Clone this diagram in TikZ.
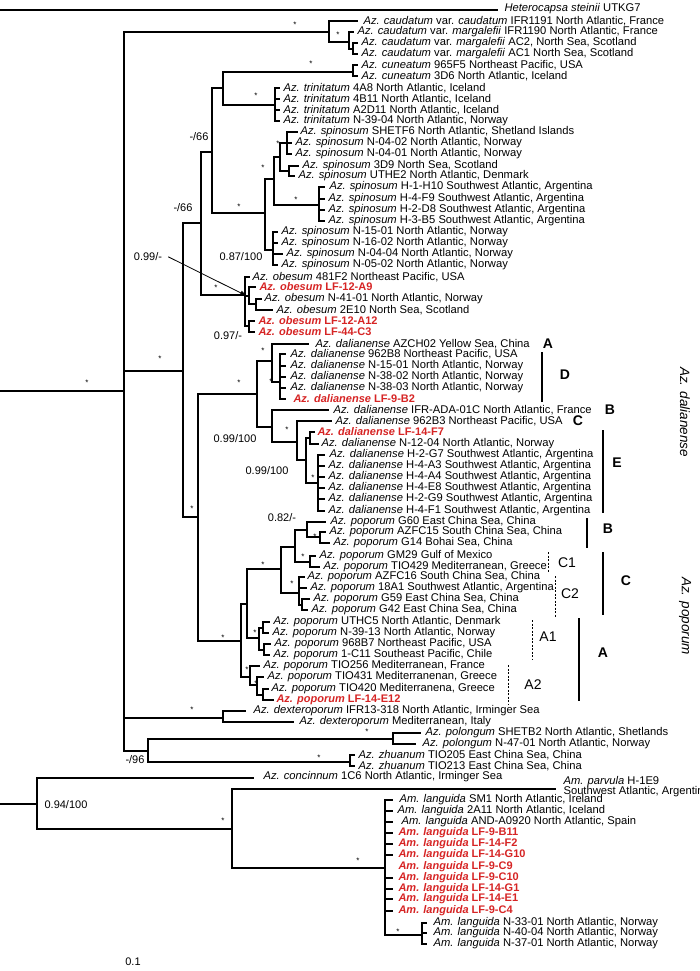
\documentclass[tikz,border=0pt]{standalone}
\usepackage{fontspec}
\setmainfont{Liberation Sans}
\usetikzlibrary{arrows.meta}
\definecolor{redlab}{RGB}{214,36,36}
\newcommand\clade[4]{\draw (#1,#2) -- (#1,#3); \foreach \yy/\xx in {#4} {\draw (#1,\yy) -- (\xx,\yy);}}
\newcommand\tl[3]{\node[lab] (t#2) at (#1,#2) {#3};}
\newcommand\rl[3]{\node[rlab] (t#2) at (#1,#2) {#3};}
\newcommand\st[2]{\node[starn] at (#1,#2) {*};}
\begin{document}
\begin{tikzpicture}[x=1pt,y=-1pt,line width=1.1pt,line cap=rect,
  lab/.style={anchor=west,inner sep=0pt,font=\fontsize{11.2}{11.2}\selectfont},
  rlab/.style={anchor=west,inner sep=0pt,text=redlab,font=\fontsize{11}{11}\selectfont\bfseries},
  supv/.style={inner sep=0pt,font=\fontsize{11}{11}\selectfont},
  starn/.style={inner sep=0pt,font=\fontsize{8}{8}\selectfont,yshift=-1.8pt},
  grp/.style={inner sep=0pt,font=\fontsize{14}{14}\selectfont\bfseries},
  subg/.style={inner sep=0pt,font=\fontsize{14}{14}\selectfont},
  gbar/.style={line width=2.6pt,line cap=butt},
  dbar/.style={line width=0.8pt,line cap=butt,dash pattern=on 2pt off 1.5pt}]
\useasboundingbox (0,0) rectangle (699,971);
% root branches
\draw (0,10) -- (497,10);
\draw (0,391) -- (124,391); \st{87}{381}
\draw (0,804) -- (37,804);
% N1
\clade{124}{32}{751}{32/329,371/183,718/223,751/148}
\st{295}{23}\st{160}{357}\st{192}{708}
\node[supv] at (135,760) {-/96};
% caudatum
\clade{329}{21}{42}{21/357,42/349}\st{338}{33}
\clade{349}{32}{49}{32/353,49/353}
\clade{353}{43}{54}{43/357,54/357}
% x183
\clade{183}{223}{517}{223/201,517/198}\st{192}{507}
\node[supv] at (183,208) {-/66};
\clade{201}{152}{295}{152/212,295/245}\st{216}{286}
\node[supv] at (199,137) {-/66};
\clade{212}{88}{213}{88/223,213/265}\st{239}{205}
\clade{223}{72}{105}{72/353,105/275}\st{311}{62}\st{256}{94}
\clade{353}{65}{76}{65/357,76/357}
\clade{275}{88}{121}{88/279,99/279,110/279,121/279}
% spinosum
\clade{265}{179}{250}{179/274,250/273}
\clade{274}{157}{205}{157/280,205/319}\st{296}{198}\st{263}{166}
\clade{280}{143}{171}{143/287,171/289}\st{278}{142}
\clade{287}{132}{154}{132/297,143/291,154/291}
\clade{289}{166}{176}{166/298,176/294}
\clade{319}{187}{221}{187/324,199/324,210/324,221/324}
\clade{273}{232}{265}{232/277,243/277,254/282,265/277}
\node[supv] at (241,257) {0.87/100};
% obesum
\clade{245}{277}{326}{277/249,296/249,326/249}
\clade{249}{287}{304}{287/255,304/256}
\clade{256}{299}{310}{299/261,310/272}
\clade{249}{321}{332}{321/254,332/254}
\node[supv] at (228,336) {0.97/-};
\node[supv] (s099) at (148,257) {0.99/-};
\coordinate (obn) at (247,296);
\draw[line width=0.8pt,-{Latex[length=7pt,width=5pt]}] (s099.east) ++(6,0) -- (obn);
% dalianense + poporum
\clade{198}{394}{641}{394/257,641/241}\st{239}{381}\st{223}{636}
\clade{257}{361}{427}{361/272,427/272}
\node[supv] at (235,439) {0.99/100};
\clade{272}{344}{382}{344/308,382/280}\st{263}{349}\st{271}{380}
\clade{280}{354}{399}{354/285,366/285,377/285,388/285,399/285}
\clade{272}{410}{442}{410/328,442/297}
\clade{297}{421}{460}{421/331,460/306}\st{287}{428}
\clade{306}{438}{483}{438/310,483/318}\st{313}{476}
\node[supv] at (267,471) {0.99/100};
\clade{310}{432}{444}{432/314,444/318}
\clade{318}{455}{511}{455/324,466/324,477/324,488/324,499/324,511/324}
% poporum
\clade{241}{604}{677}{604/247,677/250}
\clade{247}{569}{638}{569/281,638/259}\st{263}{563}
\clade{281}{547}{593}{547/295,593/299}
\clade{295}{530}{562}{530/307,562/310}
\node[supv] at (282,518) {0.82/-};
\clade{307}{522}{537}{522/325,537/320}\st{315}{535}
\clade{320}{532}{543}{532/325,543/329}
\clade{310}{556}{567}{556/315,567/319}\st{303}{555}
\clade{299}{577}{605}{577/304,588/306,605/302}\st{292}{582}
\clade{302}{599}{610}{599/309,610/307}
\clade{259}{628}{650}{628/263,650/264}\st{255}{631}
\clade{263}{622}{633}{622/269,633/268}
\clade{264}{644}{655}{644/270,655/269}
\clade{250}{666}{685}{666/259,685/257}\st{247}{668}
\clade{257}{677}{695}{677/263,695/263}\st{256}{682}
\clade{263}{689}{700}{689/268,700/273}
% dexteroporum, polongum, zhuanum
\clade{223}{711}{722}{711/245,722/293}
\clade{148}{739}{762}{739/393,762/350}\st{367}{730}\st{319}{756}
\clade{393}{733}{744}{733/420,744/415}
\clade{350}{755}{766}{755/354,766/354}
% Amphidoma
\clade{37}{778}{829}{778/253,829/232}
\node[supv] at (66,805) {0.94/100};
\clade{232}{789}{868}{789/555,868/385}\st{223}{819}\st{358}{859}
\clade{385}{800}{935}{800/392,811/392,822/392,833/392,844/392,855/392,878/392,889/392,899/392,911/392,935/422}\st{398}{930}
\clade{422}{923}{944}{923/426,933/426,944/426}
% scale
\node[supv] at (133,962) {0.1};
% labels
\tl{504}{9}{\textit{Heterocapsa steinii} UTKG7}
\tl{363}{21}{\textit{Az. caudatum} var. \textit{caudatum} IFR1191 North Atlantic, France}
\tl{357}{32}{\textit{Az. caudatum} var. \textit{margalefii} IFR1190 North Atlantic, France}
\tl{361}{43}{\textit{Az. caudatum} var. \textit{margalefii} AC2, North Sea, Scotland}
\tl{361}{54}{\textit{Az. caudatum} var. \textit{margalefii} AC1 North Sea, Scotland}
\tl{361}{65}{\textit{Az. cuneatum} 965F5 Northeast Pacific, USA}
\tl{361}{76}{\textit{Az. cuneatum} 3D6 North Atlantic, Iceland}
\tl{283}{88}{\textit{Az. trinitatum} 4A8 North Atlantic, Iceland}
\tl{283}{99}{\textit{Az. trinitatum} 4B11 North Atlantic, Iceland}
\tl{283}{110}{\textit{Az. trinitatum} A2D11 North Atlantic, Iceland}
\tl{283}{121}{\textit{Az. trinitatum} N-39-04 North Atlantic, Norway}
\tl{300}{132}{\textit{Az. spinosum} SHETF6 North Atlantic, Shetland Islands}
\tl{295}{143}{\textit{Az. spinosum} N-04-02 North Atlantic, Norway}
\tl{295}{154}{\textit{Az. spinosum} N-04-01 North Atlantic, Norway}
\tl{302}{166}{\textit{Az. spinosum} 3D9 North Sea, Scotland}
\tl{298}{176}{\textit{Az. spinosum} UTHE2 North Atlantic, Denmark}
\tl{329}{187}{\textit{Az. spinosum} H-1-H10 Southwest Atlantic, Argentina}
\tl{328}{199}{\textit{Az. spinosum} H-4-F9 Southwest Atlantic, Argentina}
\tl{328}{210}{\textit{Az. spinosum} H-2-D8 Southwest Atlantic, Argentina}
\tl{328}{221}{\textit{Az. spinosum} H-3-B5 Southwest Atlantic, Argentina}
\tl{281}{232}{\textit{Az. spinosum} N-15-01 North Atlantic, Norway}
\tl{281}{243}{\textit{Az. spinosum} N-16-02 North Atlantic, Norway}
\tl{286}{254}{\textit{Az. spinosum} N-04-04 North Atlantic, Norway}
\tl{281}{265}{\textit{Az. spinosum} N-05-02 North Atlantic, Norway}
\tl{252}{277}{\textit{Az. obesum} 481F2 Northeast Pacific, USA}
\rl{259}{287}{\textit{Az. obesum} LF-12-A9}
\tl{264}{299}{\textit{Az. obesum} N-41-01 North Atlantic, Norway}
\tl{276}{310}{\textit{Az. obesum} 2E10 North Sea, Scotland}
\rl{258}{321}{\textit{Az. obesum} LF-12-A12}
\rl{258}{332}{\textit{Az. obesum} LF-44-C3}
\tl{315}{344}{\textit{Az. dalianense} AZCH02 Yellow Sea, China}
\tl{290}{354}{\textit{Az. dalianense} 962B8 Northeast Pacific, USA}
\tl{290}{366}{\textit{Az. dalianense} N-15-01 North Atlantic, Norway}
\tl{290}{377}{\textit{Az. dalianense} N-38-02 North Atlantic, Norway}
\tl{290}{388}{\textit{Az. dalianense} N-38-03 North Atlantic, Norway}
\rl{293}{399}{\textit{Az. dalianense} LF-9-B2}
\tl{333}{410}{\textit{Az. dalianense} IFR-ADA-01C North Atlantic, France}
\tl{335}{421}{\textit{Az. dalianense} 962B3 Northeast Pacific, USA}
\rl{317}{432}{\textit{Az. dalianense} LF-14-F7}
\tl{321}{444}{\textit{Az. dalianense} N-12-04 North Atlantic, Norway}
\tl{329}{455}{\textit{Az. dalianense} H-2-G7 Southwest Atlantic, Argentina}
\tl{328}{466}{\textit{Az. dalianense} H-4-A3 Southwest Atlantic, Argentina}
\tl{328}{477}{\textit{Az. dalianense} H-4-A4 Southwest Atlantic, Argentina}
\tl{328}{488}{\textit{Az. dalianense} H-4-E8 Southwest Atlantic, Argentina}
\tl{328}{499}{\textit{Az. dalianense} H-2-G9 Southwest Atlantic, Argentina}
\tl{328}{511}{\textit{Az. dalianense} H-4-F1 Southwest Atlantic, Argentina}
\tl{330}{522}{\textit{Az. poporum} G60 East China Sea, China}
\tl{329}{532}{\textit{Az. poporum} AZFC15 South China Sea, China}
\tl{333}{543}{\textit{Az. poporum} G14 Bohai Sea, China}
\tl{319}{556}{\textit{Az. poporum} GM29 Gulf of Mexico}
\tl{323}{567}{\textit{Az. poporum} TIO429 Mediterranean, Greece}
\tl{307}{577}{\textit{Az. poporum} AZFC16 South China Sea, China}
\tl{310}{588}{\textit{Az. poporum} 18A1 Southwest Atlantic, Argentina}
\tl{313}{599}{\textit{Az. poporum} G59 East China Sea, China}
\tl{311}{610}{\textit{Az. poporum} G42 East China Sea, China}
\tl{273}{622}{\textit{Az. poporum} UTHC5 North Atlantic, Denmark}
\tl{272}{633}{\textit{Az. poporum} N-39-13 North Atlantic, Norway}
\tl{274}{644}{\textit{Az. poporum} 968B7 Northeast Pacific, USA}
\tl{273}{655}{\textit{Az. poporum} 1-C11 Southeast Pacific, Chile}
\tl{263}{666}{\textit{Az. poporum} TIO256 Mediterranean, France}
\tl{267}{677}{\textit{Az. poporum} TIO431 Mediterranenan, Greece}
\tl{271}{689}{\textit{Az. poporum} TIO420 Mediterranena, Greece}
\rl{276}{700}{\textit{Az. poporum} LF-14-E12}
\tl{253}{711}{\textit{Az. dexteroporum} IFR13-318 North Atlantic, Irminger Sea}
\tl{299}{722}{\textit{Az. dexteroporum} Mediterranean, Italy}
\tl{425}{733}{\textit{Az. polongum} SHETB2 North Atlantic, Shetlands}
\tl{422}{744}{\textit{Az. polongum} N-47-01 North Atlantic, Norway}
\tl{358}{755}{\textit{Az. zhuanum} TIO205 East China Sea, China}
\tl{358}{766}{\textit{Az. zhuanum} TIO213 East China Sea, China}
\tl{263}{777}{\textit{Az. concinnum} 1C6 North Atlantic, Irminger Sea}
\tl{563}{782}{\textit{Am. parvula} H-1E9}
\tl{563}{792}{Southwest Atlantic, Argentina}
\tl{399}{800}{\textit{Am. languida} SM1 North Atlantic, Ireland}
\tl{397}{811}{\textit{Am. languida} 2A11 North Atlantic, Iceland}
\tl{401}{822}{\textit{Am. languida} AND-A0920 North Atlantic, Spain}
\rl{398}{833}{\textit{Am. languida} LF-9-B11}
\rl{398}{844}{\textit{Am. languida} LF-14-F2}
\rl{398}{855}{\textit{Am. languida} LF-14-G10}
\rl{398}{867}{\textit{Am. languida} LF-9-C9}
\rl{398}{878}{\textit{Am. languida} LF-9-C10}
\rl{398}{889}{\textit{Am. languida} LF-14-G1}
\rl{398}{899}{\textit{Am. languida} LF-14-E1}
\rl{398}{911}{\textit{Am. languida} LF-9-C4}
\tl{433}{923}{\textit{Am. languida} N-33-01 North Atlantic, Norway}
\tl{433}{933}{\textit{Am. languida} N-40-04 North Atlantic, Norway}
\tl{433}{944}{\textit{Am. languida} N-37-01 North Atlantic, Norway}
% group bars and labels
\node[grp] (gA1) at (548,344) {A};
\draw[gbar] (542,352) -- (542,402); \node[grp] (gD) at (565,375) {D};
\node[grp] (gB1) at (610,410) {B};
\node[grp] (gC1) at (578,421) {C};
\draw[gbar] (603,430) -- (603,513); \node[grp] (gE) at (617,463) {E};
\draw[gbar] (587,518) -- (587,548); \node[grp] (gB2) at (608,529) {B};
\draw[dbar] (548,552) -- (548,572); \node[subg] (gc1) at (567,563) {C1};
\draw[dbar] (555,576) -- (555,617); \node[subg] (gc2) at (570,594) {C2};
\draw[gbar] (603,552) -- (603,615); \node[grp] (gC2) at (626,581) {C};
\draw[dbar] (532,620) -- (532,660); \node[subg] (ga1) at (548,637) {A1};
\draw[dbar] (508,665) -- (508,705); \node[subg] (ga2) at (533,685) {A2};
\draw[gbar] (579,618) -- (579,701); \node[grp] (gA2) at (603,653) {A};
\node[rotate=-90,inner sep=0pt,font=\fontsize{13.5}{13.5}\selectfont\itshape] (cd) at (685,412) {Az. dalianense};
\node[rotate=-90,inner sep=0pt,font=\fontsize{13.5}{13.5}\selectfont\itshape] (cp) at (685,616) {Az. poporum};
\end{tikzpicture}
\end{document}
